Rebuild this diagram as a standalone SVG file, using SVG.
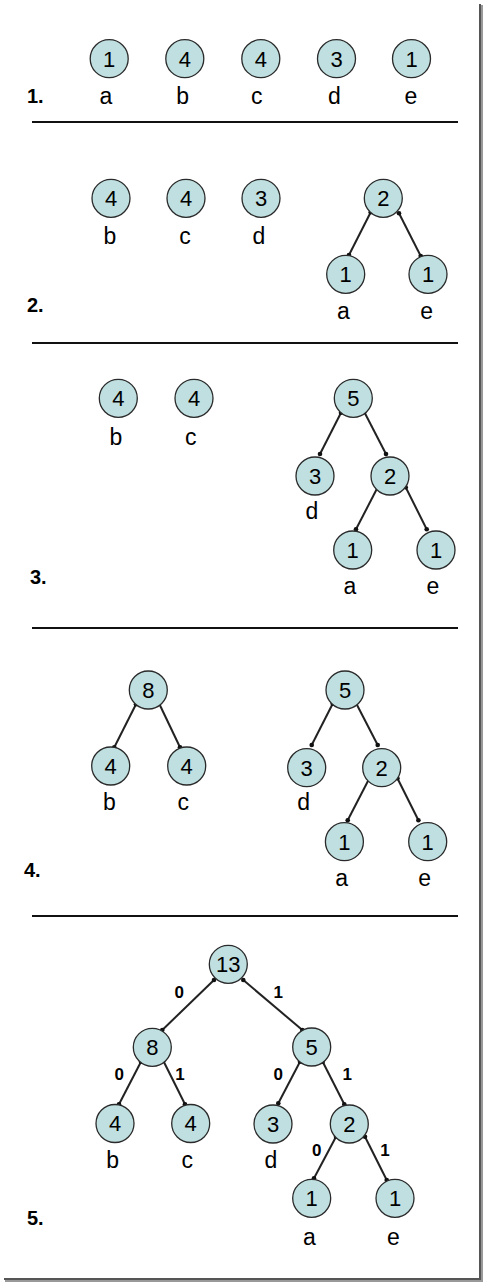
<svg xmlns="http://www.w3.org/2000/svg" width="484" height="1284" viewBox="0 0 484 1284">
<style>
.n circle{fill:#bfdfe0;stroke:#2a2a2a;stroke-width:1.3}
.n text{font-family:"Liberation Sans",Arial,sans-serif;font-size:22px;fill:#000;text-anchor:middle}
.lbl{font-family:"Liberation Sans",Arial,sans-serif;font-size:23px;fill:#000;text-anchor:middle}
.step{font-family:"Liberation Sans",Arial,sans-serif;font-size:20px;font-weight:bold;fill:#000}
.bit{font-family:"Liberation Sans",Arial,sans-serif;font-size:17px;font-weight:bold;fill:#000;text-anchor:middle}
.sep{stroke:#111;stroke-width:2}
.e line{stroke:#222;stroke-width:2}
.e circle{fill:#111}
</style>
<rect width="484" height="1284" fill="#fff"/>
<rect x="479" y="4" width="2" height="1276" fill="#555"/>
<rect x="481" y="5" width="2" height="1276" fill="#999"/>
<rect x="4" y="1278" width="477" height="2" fill="#555"/>
<rect x="5" y="1280" width="478" height="2" fill="#999"/>

<g id="separators">
<line class="sep" x1="32" y1="122" x2="458" y2="122"/>
<line class="sep" x1="32" y1="343" x2="458" y2="343"/>
<line class="sep" x1="32" y1="628" x2="458" y2="628"/>
<line class="sep" x1="32" y1="916" x2="458" y2="916"/>
</g>

<g id="steps">
<text class="step" x="27" y="103">1.</text>
<text class="step" x="27" y="312">2.</text>
<text class="step" x="30" y="584">3.</text>
<text class="step" x="24" y="877">4.</text>
<text class="step" x="27" y="1225">5.</text>
</g>

<g id="connectors" class="e">
<line x1="370.7" y1="212.3" x2="349" y2="255"/><circle cx="370.7" cy="212.3" r="2.3"/><circle cx="349" cy="255" r="2.3"/>
<line x1="399" y1="213.3" x2="420.7" y2="256"/><circle cx="399" cy="213.3" r="2.3"/><circle cx="420.7" cy="256" r="2.3"/>
<line x1="341" y1="412.7" x2="320" y2="454"/><circle cx="341" cy="412.7" r="2.3"/><circle cx="320" cy="454" r="2.3"/>
<line x1="364.3" y1="412" x2="386" y2="454"/><circle cx="364.3" cy="412" r="2.3"/><circle cx="386" cy="454" r="2.3"/>
<line x1="377.7" y1="487.3" x2="356" y2="529.3"/><circle cx="377.7" cy="487.3" r="2.3"/><circle cx="356" cy="529.3" r="2.3"/>
<line x1="405.7" y1="487.3" x2="426.7" y2="529.3"/><circle cx="405.7" cy="487.3" r="2.3"/><circle cx="426.7" cy="529.3" r="2.3"/>
<line x1="136" y1="704.3" x2="114.3" y2="747.3"/><circle cx="136" cy="704.3" r="2.3"/><circle cx="114.3" cy="747.3" r="2.3"/>
<line x1="159" y1="703.3" x2="180" y2="747.3"/><circle cx="159" cy="703.3" r="2.3"/><circle cx="180" cy="747.3" r="2.3"/>
<line x1="332.7" y1="703.7" x2="311.7" y2="745"/><circle cx="332.7" cy="703.7" r="2.3"/><circle cx="311.7" cy="745" r="2.3"/>
<line x1="356" y1="703" x2="377.7" y2="745"/><circle cx="356" cy="703" r="2.3"/><circle cx="377.7" cy="745" r="2.3"/>
<line x1="369.4" y1="778.3" x2="347.7" y2="820.3"/><circle cx="369.4" cy="778.3" r="2.3"/><circle cx="347.7" cy="820.3" r="2.3"/>
<line x1="397.4" y1="778.3" x2="418.4" y2="820.3"/><circle cx="397.4" cy="778.3" r="2.3"/><circle cx="418.4" cy="820.3" r="2.3"/>
<line x1="214" y1="980" x2="162.3" y2="1030"/><circle cx="214" cy="980" r="2.3"/><circle cx="162.3" cy="1030" r="2.3"/>
<line x1="243.3" y1="980" x2="302.3" y2="1030"/><circle cx="243.3" cy="980" r="2.3"/><circle cx="302.3" cy="1030" r="2.3"/>
<line x1="141" y1="1061.7" x2="119" y2="1104.3"/><circle cx="141" cy="1061.7" r="2.3"/><circle cx="119" cy="1104.3" r="2.3"/>
<line x1="163.3" y1="1060.7" x2="185" y2="1104.3"/><circle cx="163.3" cy="1060.7" r="2.3"/><circle cx="185" cy="1104.3" r="2.3"/>
<line x1="300" y1="1061.7" x2="278.3" y2="1103.3"/><circle cx="300" cy="1061.7" r="2.3"/><circle cx="278.3" cy="1103.3" r="2.3"/>
<line x1="322.7" y1="1061.7" x2="344.3" y2="1104.3"/><circle cx="322.7" cy="1061.7" r="2.3"/><circle cx="344.3" cy="1104.3" r="2.3"/>
<line x1="336" y1="1136.7" x2="314" y2="1178.3"/><circle cx="336" cy="1136.7" r="2.3"/><circle cx="314" cy="1178.3" r="2.3"/>
<line x1="365" y1="1136.7" x2="386.7" y2="1180"/><circle cx="365" cy="1136.7" r="2.3"/><circle cx="386.7" cy="1180" r="2.3"/>
</g>

<g id="bits">
<text class="bit" x="179.3" y="998">0</text>
<text class="bit" x="278.3" y="998">1</text>
<text class="bit" x="119.3" y="1080">0</text>
<text class="bit" x="180" y="1080">1</text>
<text class="bit" x="278.3" y="1080">0</text>
<text class="bit" x="347.3" y="1080">1</text>
<text class="bit" x="316.7" y="1156">0</text>
<text class="bit" x="385" y="1156">1</text>
</g>

<g id="s1a" class="n"><circle cx="109.2" cy="58.7" r="19"/><text x="109.2" y="66.5">1</text></g>
<g id="s1b" class="n"><circle cx="184.8" cy="58.7" r="19"/><text x="184.8" y="66.5">4</text></g>
<g id="s1c" class="n"><circle cx="260.8" cy="58.7" r="19"/><text x="260.8" y="66.5">4</text></g>
<g id="s1d" class="n"><circle cx="336.5" cy="58.7" r="19"/><text x="336.5" y="66.5">3</text></g>
<g id="s1e" class="n"><circle cx="411.5" cy="58.7" r="19"/><text x="411.5" y="66.5">1</text></g>
<g id="s1labels">
<text class="lbl" x="106" y="104">a</text><text class="lbl" x="182.7" y="104">b</text><text class="lbl" x="256.7" y="104">c</text><text class="lbl" x="334.3" y="104">d</text><text class="lbl" x="411" y="104">e</text>
</g>

<g id="s2b" class="n"><circle cx="111" cy="198.3" r="19"/><text x="111" y="206.1">4</text></g>
<g id="s2c" class="n"><circle cx="186" cy="198.3" r="19"/><text x="186" y="206.1">4</text></g>
<g id="s2d" class="n"><circle cx="261" cy="198.3" r="19"/><text x="261" y="206.1">3</text></g>
<g id="s2root" class="n"><circle cx="383.3" cy="198.3" r="19"/><text x="383.3" y="206.1">2</text></g>
<g id="s2a" class="n"><circle cx="345.7" cy="274.3" r="19"/><text x="345.7" y="282.1">1</text></g>
<g id="s2e" class="n"><circle cx="428" cy="274.3" r="19"/><text x="428" y="282.1">1</text></g>
<g id="s2labels">
<text class="lbl" x="110" y="244">b</text><text class="lbl" x="185" y="244">c</text><text class="lbl" x="259" y="244">d</text>
<text class="lbl" x="343.3" y="319">a</text><text class="lbl" x="426.7" y="319">e</text>
</g>

<g id="s3b" class="n"><circle cx="118.3" cy="398.3" r="19"/><text x="118.3" y="406.1">4</text></g>
<g id="s3c" class="n"><circle cx="194" cy="398.3" r="19"/><text x="194" y="406.1">4</text></g>
<g id="s3root" class="n"><circle cx="353.3" cy="398.3" r="19"/><text x="353.3" y="406.1">5</text></g>
<g id="s3d" class="n"><circle cx="315" cy="476" r="19"/><text x="315" y="483.8">3</text></g>
<g id="s3n2" class="n"><circle cx="390" cy="476" r="19"/><text x="390" y="483.8">2</text></g>
<g id="s3a" class="n"><circle cx="352.7" cy="550" r="19"/><text x="352.7" y="557.8">1</text></g>
<g id="s3e" class="n"><circle cx="436" cy="550" r="19"/><text x="436" y="557.8">1</text></g>
<g id="s3labels">
<text class="lbl" x="116" y="445">b</text><text class="lbl" x="190.7" y="445">c</text>
<text class="lbl" x="312" y="519">d</text><text class="lbl" x="350" y="594">a</text><text class="lbl" x="433" y="594">e</text>
</g>

<g id="s4n8" class="n"><circle cx="148.3" cy="690" r="19"/><text x="148.3" y="697.8">8</text></g>
<g id="s4b" class="n"><circle cx="110.7" cy="766" r="19"/><text x="110.7" y="773.8">4</text></g>
<g id="s4c" class="n"><circle cx="186.7" cy="766" r="19"/><text x="186.7" y="773.8">4</text></g>
<g id="s4root" class="n"><circle cx="345" cy="690" r="19"/><text x="345" y="697.8">5</text></g>
<g id="s4d" class="n"><circle cx="306.7" cy="767.7" r="19"/><text x="306.7" y="775.5">3</text></g>
<g id="s4n2" class="n"><circle cx="381.7" cy="767.7" r="19"/><text x="381.7" y="775.5">2</text></g>
<g id="s4a" class="n"><circle cx="344.4" cy="841.7" r="19"/><text x="344.4" y="849.5">1</text></g>
<g id="s4e" class="n"><circle cx="427.7" cy="841.7" r="19"/><text x="427.7" y="849.5">1</text></g>
<g id="s4labels">
<text class="lbl" x="109.3" y="810">b</text><text class="lbl" x="183.3" y="810">c</text>
<text class="lbl" x="303.7" y="810">d</text><text class="lbl" x="341.7" y="886">a</text><text class="lbl" x="424.7" y="886">e</text>
</g>

<g id="s5root" class="n"><circle cx="228.3" cy="964.3" r="19"/><text x="228.3" y="972.1">13</text></g>
<g id="s5n8" class="n"><circle cx="152.3" cy="1047.3" r="19"/><text x="152.3" y="1055.1">8</text></g>
<g id="s5n5" class="n"><circle cx="311.7" cy="1047" r="19"/><text x="311.7" y="1054.8">5</text></g>
<g id="s5b" class="n"><circle cx="115" cy="1123.5" r="19"/><text x="115" y="1131.3">4</text></g>
<g id="s5c" class="n"><circle cx="190.7" cy="1123.5" r="19"/><text x="190.7" y="1131.3">4</text></g>
<g id="s5d" class="n"><circle cx="273" cy="1124" r="19"/><text x="273" y="1131.8">3</text></g>
<g id="s5n2" class="n"><circle cx="349.3" cy="1124" r="19"/><text x="349.3" y="1131.8">2</text></g>
<g id="s5a" class="n"><circle cx="311.7" cy="1198.3" r="19"/><text x="311.7" y="1206.1">1</text></g>
<g id="s5e" class="n"><circle cx="395" cy="1198.3" r="19"/><text x="395" y="1206.1">1</text></g>
<g id="s5labels">
<text class="lbl" x="112.7" y="1168">b</text><text class="lbl" x="187.3" y="1168">c</text><text class="lbl" x="271" y="1168">d</text>
<text class="lbl" x="309.3" y="1245">a</text><text class="lbl" x="393.3" y="1245">e</text>
</g>
</svg>
